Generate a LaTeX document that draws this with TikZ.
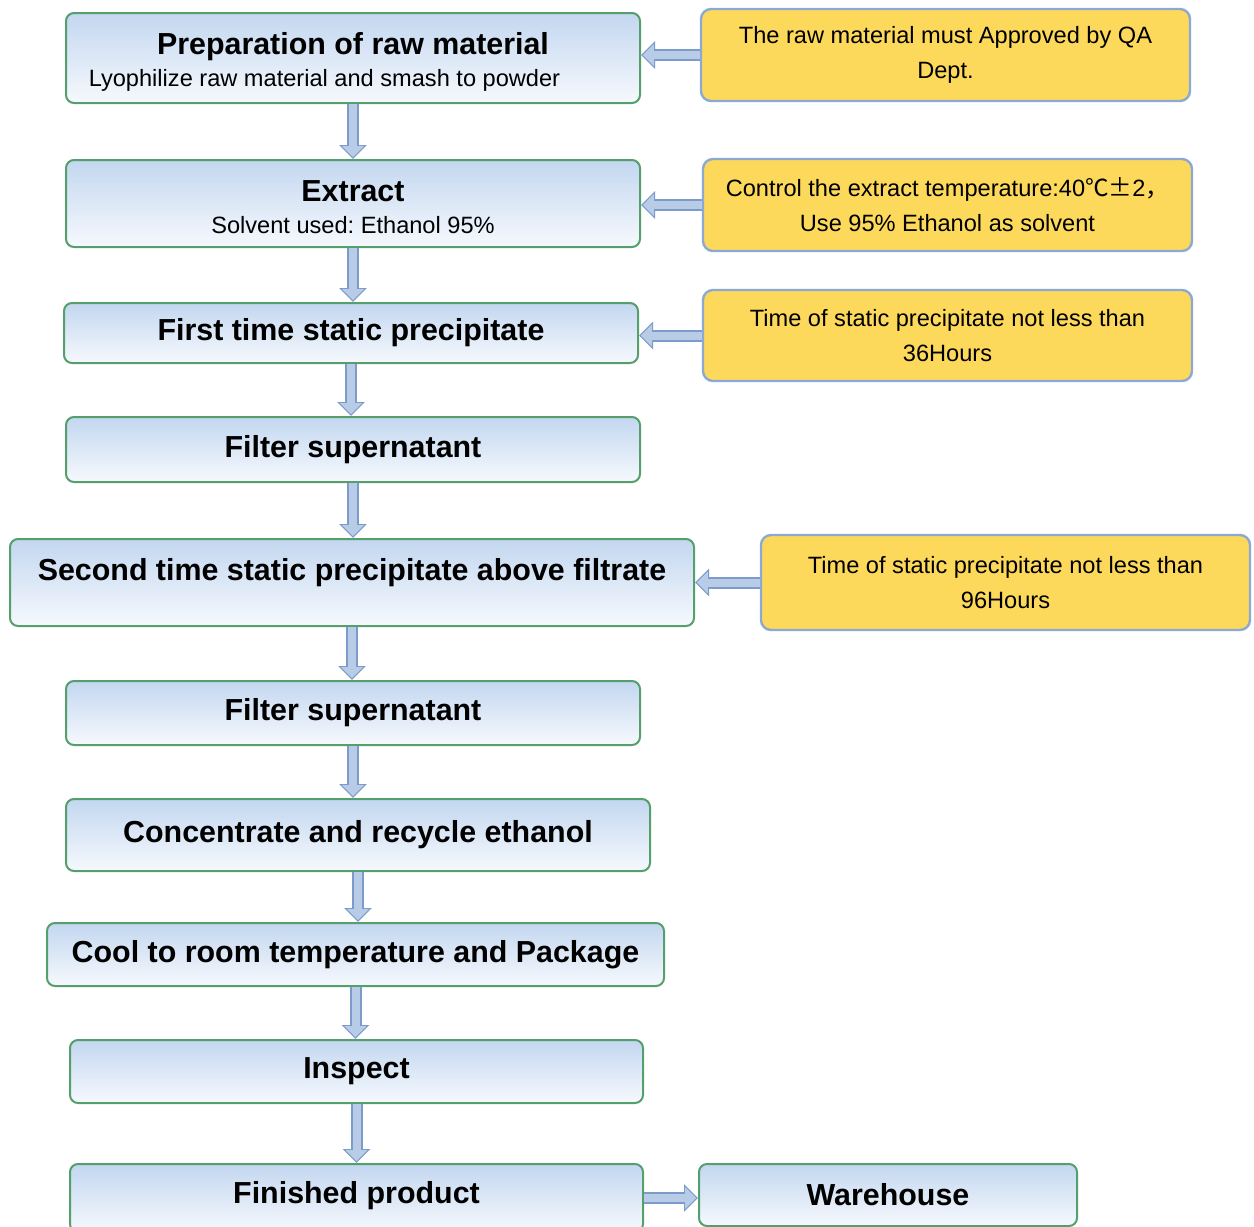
\documentclass[tikz,border=0pt]{standalone}
\usepackage{fontspec}
\setmainfont{Liberation Sans}
\newfontfamily\cjk{Noto Sans CJK SC}
\usepackage{xcolor}
\usepackage{tikz}
\usetikzlibrary{arrows.meta}

\definecolor{boxgreen}{HTML}{559F6D}
\definecolor{boxtop}{HTML}{C3D7F0}
\definecolor{boxbottom}{HTML}{F6F9FD}
\definecolor{noteyellow}{HTML}{FDD95B}
\definecolor{noteedge}{HTML}{8CA9D3}
\definecolor{arrowfill}{HTML}{B8CCE8}
\definecolor{arrowedge}{HTML}{7B9CCB}

\newcommand{\ttl}[1]{{\bfseries\fontsize{15.2}{17.5}\selectfont #1}}

\begin{document}
\begin{tikzpicture}[x=0.5pt, y=-0.5pt,
  procbox/.style={draw=boxgreen, line width=1pt, rounded corners=4pt,
    top color=boxtop, bottom color=boxbottom, inner sep=0pt, align=center,
    font=\fontsize{11.8}{17.5}\selectfont},
  notebox/.style={draw=noteedge, line width=1.2pt, rounded corners=5pt,
    fill=noteyellow, inner sep=0pt, align=center,
    font=\fontsize{11.8}{17.5}\selectfont},
  blockarrow/.style={draw=arrowfill, line width=4pt,
    -{Triangle[length=5.5pt,width=10.5pt]}, shorten >=0.9pt,
    preaction={draw=arrowedge, line width=6pt,
      -{Triangle[length=7pt,width=13.5pt]}, shorten >=0pt}}]
\useasboundingbox (0,0) rectangle (1254,1227);
% process steps
\node [procbox, minimum width=287pt, minimum height=45pt, text height=30.5pt] (prep) at (353,58)
  {\ttl{Preparation of raw material}\\[-1.5pt]Lyophilize raw material and smash to powder\hspace*{28.5pt}};
\node [procbox, minimum width=287pt, minimum height=43.5pt, text height=30.5pt] (extract) at (353,203.5)
  {\ttl{Extract}\\[-1.5pt]Solvent used:\ Ethanol 95\%};
\node [procbox, minimum width=287pt, minimum height=30pt] (first) at (351,333)
  {\ttl{First time static precipitate}};
\node [procbox, minimum width=287pt, minimum height=32.5pt] (filterA) at (353,449.5)
  {\ttl{Filter supernatant}};
\node [procbox, minimum width=342pt, minimum height=43.5pt, text depth=13.5pt] (second) at (352,582.5)
  {\ttl{Second time static precipitate above filtrate}};
\node [procbox, minimum width=287pt, minimum height=32pt] (filterB) at (353,713)
  {\ttl{Filter supernatant}};
\node [procbox, minimum width=292pt, minimum height=36pt] (concentrate) at (358,835)
  {\ttl{Concentrate and recycle ethanol}};
\node [procbox, minimum width=308.5pt, minimum height=31.5pt] (cool) at (355.5,954.5)
  {\ttl{Cool to room temperature and Package}};
\node [procbox, minimum width=286.5pt, minimum height=31.5pt] (inspect) at (356.5,1071.5)
  {\ttl{Inspect}};
\node [procbox, minimum width=286.5pt, minimum height=34pt, text depth=6pt] (finished) at (356.5,1198)
  {\ttl{Finished product}};
\node [procbox, minimum width=189pt, minimum height=31pt] (warehouse) at (888,1195)
  {\ttl{Warehouse}};
% notes
\node [notebox, minimum width=244.5pt, minimum height=46pt] (qa) at (945.5,55)
  {The raw material must Approved by QA\\Dept.};
\node [notebox, minimum width=244.5pt, minimum height=46pt] (temp) at (947.5,205)
  {Control the extract temperature:40{\cjk ℃±}2{\cjk ，}\\Use 95\% Ethanol as solvent};
\node [notebox, minimum width=244.5pt, minimum height=45.5pt] (hoursA) at (947.5,335.5)
  {Time of static precipitate not less than\\36Hours};
\node [notebox, minimum width=244.5pt, minimum height=47.5pt] (hoursB) at (1005.5,582.5)
  {Time of static precipitate not less than\\96Hours};
% arrows
\draw [blockarrow] (prep.south) -- (prep.south |- extract.north);
\draw [blockarrow] (extract.south) -- (extract.south |- first.north);
\draw [blockarrow] (first.south) -- (first.south |- filterA.north);
\draw [blockarrow] (filterA.south) -- (filterA.south |- second.north);
\draw [blockarrow] (second.south) -- (second.south |- filterB.north);
\draw [blockarrow] (filterB.south) -- (filterB.south |- concentrate.north);
\draw [blockarrow] (concentrate.south) -- (concentrate.south |- cool.north);
\draw [blockarrow] (cool.south) -- (cool.south |- inspect.north);
\draw [blockarrow] (inspect.south) -- (inspect.south |- finished.north);
\draw [blockarrow] (qa.west) -- (qa.west -| prep.east);
\draw [blockarrow] (temp.west) -- (temp.west -| extract.east);
\draw [blockarrow] (hoursA.west) -- (hoursA.west -| first.east);
\draw [blockarrow] (hoursB.west) -- (hoursB.west -| second.east);
\draw [blockarrow] (finished.east) -- (finished.east -| warehouse.west);
\end{tikzpicture}
\end{document}
